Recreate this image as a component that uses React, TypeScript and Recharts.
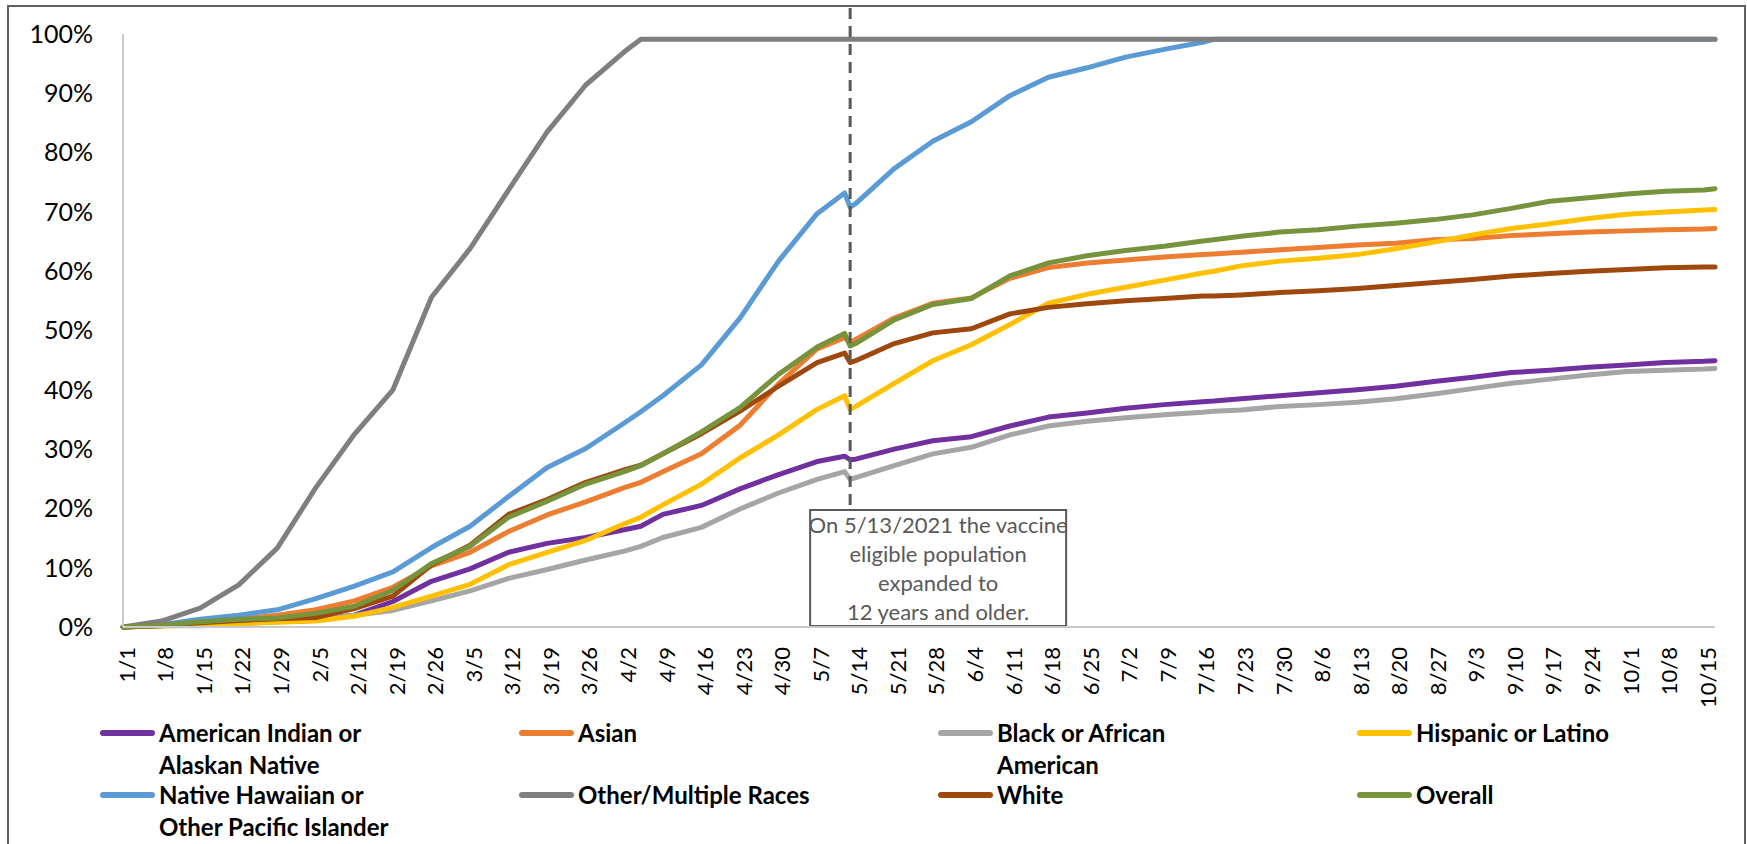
import React from 'react';
import { LineChart, Line, XAxis, YAxis, ReferenceLine } from 'recharts';

// sample dates (2021), weekly plus a few extra points where the curves change
const dates = [
  '1/1', '1/8', '1/15', '1/22', '1/29', '2/5', '2/12', '2/19', '2/26', '3/5', '3/12', '3/19', '3/26',
  '4/2', '4/5', '4/9', '4/16', '4/23', '4/30',
  '5/7', '5/12', '5/13', '5/14', '5/21', '5/28',
  '6/4', '6/11', '6/18', '6/25',
  '7/2', '7/9', '7/16', '7/18', '7/23', '7/30',
  '8/6', '8/13', '8/20', '8/27',
  '9/3', '9/10', '9/17', '9/24',
  '10/1', '10/8', '10/15', '10/17',
];

const aian = [
  0, 0.3, 0.5, 0.9, 1.0, 1.2, 2.0, 4.3, 7.7, 9.8, 12.6, 14.1, 15.1,
  16.4, 17.0, 19.0, 20.5, 23.3, 25.7,
  27.9, 28.8, 28.2, 28.3, 30.0, 31.4,
  32.1, 33.9, 35.4, 36.1,
  36.9, 37.5, 38.0, 38.1, 38.5, 39.0,
  39.5, 40.0, 40.6, 41.4,
  42.1, 42.9, 43.3, 43.8,
  44.2, 44.6, 44.8, 44.9,
];
const asian = [
  0, 0.3, 1.0, 1.3, 2.0, 2.9, 4.4, 6.7, 10.3, 12.6, 16.1, 18.9, 21.1,
  23.5, 24.4, 26.2, 29.2, 34.0, 41.0,
  46.9, 48.8, 48.0, 48.5, 52.1, 54.6,
  55.5, 58.8, 60.6, 61.4,
  61.9, 62.4, 62.8, 62.9, 63.2, 63.6,
  64.0, 64.4, 64.7, 65.3,
  65.5, 66.0, 66.3, 66.6,
  66.8, 67.0, 67.1, 67.2,
];
const black = [
  0, 0.2, 0.2, 0.5, 0.9, 1.3, 2.0, 2.8, 4.4, 6.1, 8.2, 9.7, 11.3,
  12.8, 13.6, 15.1, 16.8, 19.9, 22.6,
  24.9, 26.2, 24.9, 25.2, 27.2, 29.2,
  30.3, 32.4, 33.9, 34.7,
  35.3, 35.8, 36.2, 36.4, 36.6, 37.2,
  37.5, 37.9, 38.5, 39.3,
  40.2, 41.1, 41.8, 42.5,
  43.1, 43.3, 43.5, 43.6,
];
const hispanic = [
  0, 0.2, 0.3, 0.6, 0.8, 1.0, 1.8, 3.3, 5.2, 7.2, 10.5, 12.6, 14.6,
  17.4, 18.5, 20.6, 24.1, 28.5, 32.4,
  36.7, 39.0, 36.7, 37.2, 41.1, 44.9,
  47.6, 51.0, 54.6, 56.1,
  57.3, 58.5, 59.7, 60.0, 60.9, 61.7,
  62.2, 62.8, 63.8, 64.9,
  66.1, 67.2, 68.0, 68.9,
  69.6, 70.0, 70.3, 70.4,
];
const nhpi = [
  0, 0.4, 1.3, 2.0, 2.9, 4.8, 6.9, 9.3, 13.4, 17.0, 22.0, 26.9, 30.1,
  34.4, 36.3, 39.0, 44.2, 52.1, 61.7,
  69.7, 73.2, 70.8, 71.4, 77.3, 81.9,
  85.2, 89.6, 92.7, 94.3,
  96.1, 97.4, 98.6, 99.1, 99.1, 99.1,
  99.1, 99.1, 99.1, 99.1,
  99.1, 99.1, 99.1, 99.1,
  99.1, 99.1, 99.1, 99.1,
];
const other = [
  0, 1.0, 3.2, 7.1, 13.3, 23.5, 32.5, 40.0, 55.6, 63.8, 73.7, 83.5, 91.4,
  97.0, 99.1, 99.1, 99.1, 99.1, 99.1,
  99.1, 99.1, 99.1, 99.1, 99.1, 99.1,
  99.1, 99.1, 99.1, 99.1,
  99.1, 99.1, 99.1, 99.1, 99.1, 99.1,
  99.1, 99.1, 99.1, 99.1,
  99.1, 99.1, 99.1, 99.1,
  99.1, 99.1, 99.1, 99.1,
];
const white = [
  0, 0.2, 0.7, 1.1, 1.4, 1.6, 3.1, 5.2, 10.5, 13.8, 19.0, 21.5, 24.4,
  26.5, 27.3, 29.2, 32.6, 36.4, 40.6,
  44.6, 46.2, 44.6, 44.9, 47.8, 49.6,
  50.3, 52.8, 53.9, 54.5,
  55.0, 55.4, 55.8, 55.8, 56.0, 56.4,
  56.7, 57.1, 57.6, 58.1,
  58.6, 59.2, 59.6, 60.0,
  60.3, 60.6, 60.7, 60.7,
];
const overall = [
  0, 0.3, 0.9, 1.3, 1.5, 2.3, 3.5, 6.2, 10.7, 13.6, 18.5, 21.2, 24.1,
  26.2, 27.2, 29.2, 32.9, 37.0, 42.6,
  47.2, 49.5, 47.4, 47.8, 51.8, 54.4,
  55.4, 59.2, 61.4, 62.6,
  63.5, 64.2, 65.1, 65.3, 65.9, 66.6,
  67.0, 67.6, 68.1, 68.7,
  69.5, 70.6, 71.8, 72.4,
  73.0, 73.5, 73.7, 73.9,
];

const xTickLabels = [
  '1/1', '1/8', '1/15', '1/22', '1/29', '2/5', '2/12', '2/19', '2/26', '3/5', '3/12', '3/19', '3/26',
  '4/2', '4/9', '4/16', '4/23', '4/30', '5/7', '5/14', '5/21', '5/28', '6/4', '6/11', '6/18', '6/25',
  '7/2', '7/9', '7/16', '7/23', '7/30', '8/6', '8/13', '8/20', '8/27', '9/3', '9/10', '9/17', '9/24',
  '10/1', '10/8', '10/15',
];
const yTicks = [0, 10, 20, 30, 40, 50, 60, 70, 80, 90, 100];

const noteDate = '5/13';
const noteLines = ['On 5/13/2021 the vaccine', 'eligible population', 'expanded to', '12 years and older.'];

const series = [
  { key: 'aian', values: aian, color: '#7030A0', label: ['American Indian or', 'Alaskan Native'] },
  { key: 'asian', values: asian, color: '#ED7D31', label: ['Asian'] },
  { key: 'black', values: black, color: '#A5A5A5', label: ['Black or African', 'American'] },
  { key: 'hispanic', values: hispanic, color: '#FFC000', label: ['Hispanic or Latino'] },
  { key: 'nhpi', values: nhpi, color: '#5B9BD5', label: ['Native Hawaiian or', 'Other Pacific Islander'] },
  { key: 'other', values: other, color: '#7F7F7F', label: ['Other/Multiple Races'] },
  { key: 'white', values: white, color: '#9E480E', label: ['White'] },
  { key: 'overall', values: overall, color: '#77933C', label: ['Overall'] },
];

const monthStart = [0, 31, 59, 90, 120, 151, 181, 212, 243, 273, 304, 334];
const dayOf = (md: string) => {
  const [m, d] = md.split('/').map(Number);
  return monthStart[m - 1] + d - 1;
};

const data = dates.map((date, i) => {
  const row: Record<string, number> = { day: dayOf(date) };
  series.forEach((s) => {
    row[s.key] = s.values[i];
  });
  return row;
});

const tickDays = xTickLabels.map(dayOf);
const labelByDay: Record<number, string> = {};
xTickLabels.forEach((l) => {
  labelByDay[dayOf(l)] = l;
});

const DateTick = (props: any) => {
  const { x, y, payload } = props;
  return (
    <text
      x={0}
      y={0}
      transform={`translate(${x + 4},${y + 18}) rotate(-90)`}
      textAnchor="end"
      dy="0.35em"
      fontSize={22}
      fill="#000"
    >
      {labelByDay[payload.value]}
    </text>
  );
};

const Note = (props: any) => {
  const { x, y, height } = props.viewBox;
  const bottom = y + height - 1;
  const top = bottom - 116;
  return (
    <g>
      <line x1={x} x2={x} y1={y - 26} y2={top} stroke="#595959" strokeWidth={3} strokeDasharray="11 7" />
      <rect x={x - 40} y={top} width={256} height={116} fill="#fff" stroke="#595959" strokeWidth={2} />
      {noteLines.map((t, i) => (
        <text key={i} x={x + 88} y={top + 15 + i * 29} dy="0.35em" textAnchor="middle" fontSize={22} fill="#595959">
          {t}
        </text>
      ))}
    </g>
  );
};

const Legend = () => (
  <div style={{ position: 'absolute', left: 0, top: 0 }}>
    {series.map((s, i) => {
      const col = i % 4;
      const row = Math.floor(i / 4);
      return (
        <div
          key={s.key}
          style={{ position: 'absolute', left: 100 + col * 419, top: 717 + row * 62, display: 'flex', alignItems: 'flex-start' }}
        >
          <div style={{ width: 55, height: 6, marginTop: 13, borderRadius: 3, background: s.color }} />
          <div style={{ marginLeft: 4, fontWeight: 700, fontSize: 24, lineHeight: '32px', color: '#000', whiteSpace: 'nowrap' }}>
            {s.label.map((l) => (
              <div key={l}>{l}</div>
            ))}
          </div>
        </div>
      );
    })}
  </div>
);

export default function App() {
  return (
    <div
      style={{
        position: 'absolute',
        left: 0,
        top: 0,
        width: 1747,
        height: 844,
        overflow: 'hidden',
        background: '#fff',
        fontFamily: 'Lato, sans-serif',
      }}
    >
      <div
        style={{
          position: 'absolute',
          left: 7,
          top: 5,
          width: 1739,
          height: 900,
          border: '2px solid #5f5f5f',
          boxSizing: 'border-box',
        }}
      />
      <div style={{ position: 'absolute', left: 0, top: 0 }}>
        <LineChart width={1747} height={844} data={data} margin={{ top: 34, right: 32, bottom: 147, left: 0 }}>
          <XAxis
            type="number"
            dataKey="day"
            domain={[0, dayOf('10/17')]}
            ticks={tickDays}
            interval={0}
            height={70}
            tickSize={0}
            tick={<DateTick />}
            axisLine={{ stroke: '#c9c9c9', strokeWidth: 2 }}
          />
          <YAxis
            domain={[0, 100]}
            ticks={yTicks}
            width={123}
            tickSize={0}
            tickMargin={30}
            tickFormatter={(v: number) => `${v}%`}
            tick={{ fill: '#000', fontSize: 25 }}
            axisLine={{ stroke: '#c9c9c9', strokeWidth: 2 }}
          />
          {series.map((s) => (
            <Line
              key={s.key}
              dataKey={s.key}
              type="linear"
              stroke={s.color}
              strokeWidth={5}
              strokeLinejoin="round"
              strokeLinecap="round"
              dot={false}
              isAnimationActive={false}
            />
          ))}
          <ReferenceLine x={dayOf(noteDate)} stroke="none" label={<Note />} />
        </LineChart>
      </div>
      <Legend />
    </div>
  );
}
